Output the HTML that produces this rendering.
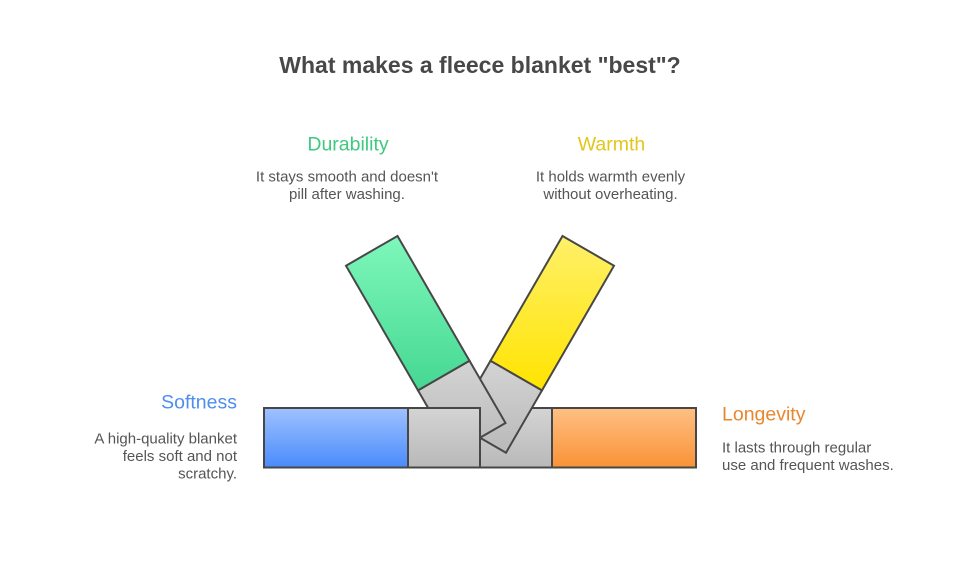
<!DOCTYPE html>
<html>
<head>
<meta charset="utf-8">
<style>
  html, body { margin: 0; padding: 0; background: #ffffff; }
  body { width: 960px; height: 566px; overflow: hidden; }
  svg { display: block; }
  text { font-family: "Liberation Sans", Arial, sans-serif; }
</style>
</head>
<body>
<svg width="960" height="566" viewBox="0 0 960 566" xmlns="http://www.w3.org/2000/svg">
  <defs>
    <linearGradient id="gBlue" x1="0" y1="0" x2="0" y2="1">
      <stop offset="0" stop-color="#9ec2ff"/>
      <stop offset="1" stop-color="#4a8bfb"/>
    </linearGradient>
    <linearGradient id="gOrange" x1="0" y1="0" x2="0" y2="1">
      <stop offset="0" stop-color="#ffc084"/>
      <stop offset="1" stop-color="#f99236"/>
    </linearGradient>
    <linearGradient id="gGray" x1="0" y1="0" x2="0" y2="1">
      <stop offset="0" stop-color="#d4d4d4"/>
      <stop offset="1" stop-color="#b9b9b9"/>
    </linearGradient>
    <linearGradient id="gGreen" x1="0" y1="0" x2="0" y2="1">
      <stop offset="0" stop-color="#7ef7bb"/>
      <stop offset="1" stop-color="#45d892"/>
    </linearGradient>
    <linearGradient id="gYellow" x1="0" y1="0" x2="0" y2="1">
      <stop offset="0" stop-color="#fff06a"/>
      <stop offset="1" stop-color="#ffe400"/>
    </linearGradient>
  </defs>

  <!-- Title -->
  <text x="480" y="73" text-anchor="middle" font-size="23" font-weight="bold" fill="#484848">What makes a fleece blanket "best"?</text>

  <!-- Durability -->
  <text x="348" y="150.5" text-anchor="middle" font-size="19.5" fill="#3ec97f">Durability</text>
  <text x="347" y="181.5" text-anchor="middle" font-size="15" fill="#555555">It stays smooth and doesn't</text>
  <text x="347" y="199" text-anchor="middle" font-size="15" fill="#555555">pill after washing.</text>

  <!-- Warmth -->
  <text x="611.5" y="150.5" text-anchor="middle" font-size="19.5" fill="#e3c61b">Warmth</text>
  <text x="610.5" y="181.5" text-anchor="middle" font-size="15" fill="#555555">It holds warmth evenly</text>
  <text x="610.5" y="199" text-anchor="middle" font-size="15" fill="#555555">without overheating.</text>

  <!-- Softness -->
  <text x="237" y="408.5" text-anchor="end" font-size="19.5" fill="#4d8ef0">Softness</text>
  <text x="237" y="443.5" text-anchor="end" font-size="15" fill="#555555">A high-quality blanket</text>
  <text x="237" y="461" text-anchor="end" font-size="15" fill="#555555">feels soft and not</text>
  <text x="237" y="478.5" text-anchor="end" font-size="15" fill="#555555">scratchy.</text>

  <!-- Longevity -->
  <text x="722" y="420.5" text-anchor="start" font-size="19.5" fill="#e8872e">Longevity</text>
  <text x="722" y="452.5" text-anchor="start" font-size="15" fill="#555555">It lasts through regular</text>
  <text x="722" y="470" text-anchor="start" font-size="15" fill="#555555">use and frequent washes.</text>

  <g stroke="#474747" stroke-width="2" stroke-linejoin="miter">
    <!-- Right horizontal bar (bottom layer) -->
    <rect x="480" y="408" width="72" height="59.5" fill="url(#gGray)"/>
    <rect x="552" y="408" width="144" height="59.5" fill="url(#gOrange)"/>

    <!-- Yellow bar -->
    <polygon points="490.5,360.7 542,390.4 506,452.7 454.5,423" fill="url(#gGray)"/>
    <polygon points="562.5,235.95 614,265.7 542,390.4 490.5,360.7" fill="url(#gYellow)"/>

    <!-- Green bar -->
    <polygon points="418,390.4 469.5,360.7 505.5,423 454,452.7" fill="url(#gGray)"/>
    <polygon points="346,265.7 397.5,235.95 469.5,360.7 418,390.4" fill="url(#gGreen)"/>

    <!-- Left horizontal bar (top layer) -->
    <rect x="264" y="408" width="144" height="59.5" fill="url(#gBlue)"/>
    <rect x="408" y="408" width="72" height="59.5" fill="url(#gGray)"/>
  </g>
</svg>
</body>
</html>
